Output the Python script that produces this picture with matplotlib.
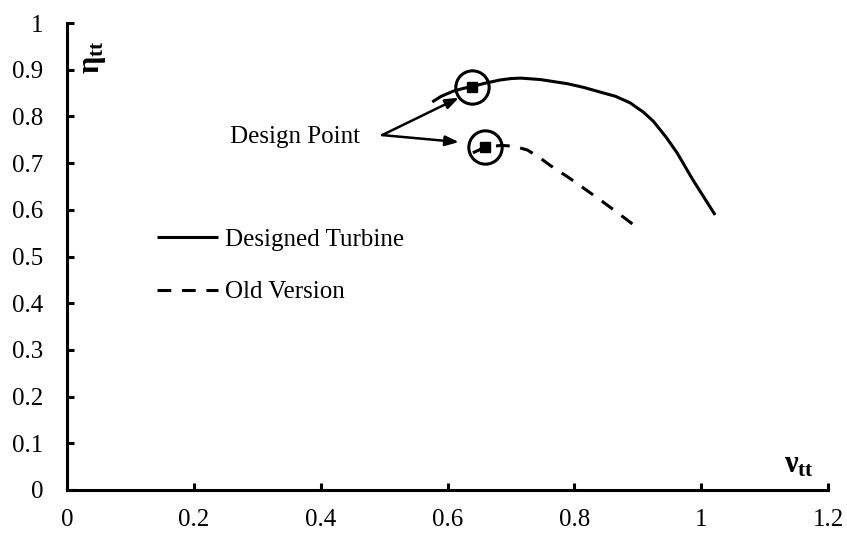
import matplotlib
matplotlib.use("Agg")
import matplotlib.pyplot as plt

plt.rcParams["font.family"] = ["Liberation Serif", "DejaVu Serif"]
plt.rcParams["mathtext.fontset"] = "custom"
plt.rcParams["mathtext.rm"] = "Liberation Serif"
plt.rcParams["mathtext.bf"] = "Liberation Serif:bold"
plt.rcParams["mathtext.it"] = "Liberation Serif:italic"

# Designed turbine characteristic
designed_v = [0.576, 0.590, 0.609, 0.625, 0.639, 0.659, 0.683, 0.700, 0.715,
              0.746, 0.789, 0.815, 0.841, 0.865, 0.888, 0.909, 0.925, 0.945,
              0.962, 0.987, 1.022]
designed_eta = [0.831, 0.843, 0.854, 0.860, 0.864, 0.871, 0.878, 0.881, 0.882,
                0.879, 0.870, 0.862, 0.852, 0.843, 0.829, 0.809, 0.789, 0.755,
                0.722, 0.664, 0.589]

# Old version characteristic
old_v = [0.640, 0.659, 0.685, 0.705, 0.726, 0.745, 0.762, 0.790, 0.814, 0.840,
         0.867, 0.900]
old_eta = [0.722, 0.734, 0.738, 0.736, 0.728, 0.712, 0.695, 0.670, 0.647, 0.622,
           0.595, 0.561]

# Design points
design_v = [0.639, 0.659]
design_eta = [0.864, 0.734]

x_ticks = [0, 0.2, 0.4, 0.6, 0.8, 1, 1.2]
x_ticklabels = ["0", "0.2", "0.4", "0.6", "0.8", "1", "1.2"]
y_ticks = [0, 0.1, 0.2, 0.3, 0.4, 0.5, 0.6, 0.7, 0.8, 0.9, 1]
y_ticklabels = ["0", "0.1", "0.2", "0.3", "0.4", "0.5", "0.6", "0.7", "0.8", "0.9", "1"]

W, H = 847, 534
fig = plt.figure(figsize=(W / 100, H / 100), dpi=100)
ax = fig.add_axes([67 / W, (H - 490) / H, (828 - 67) / W, (490 - 23) / H])

ax.plot(designed_v, designed_eta, color="black", lw=2.2, solid_capstyle="butt",
        solid_joinstyle="round", label="Designed Turbine")
ax.plot(old_v, old_eta, color="black", lw=2.2, linestyle=(0, (4.5, 3.5)),
        label="Old Version")

ax.plot(design_v, design_eta, linestyle="none", marker="s", markersize=7.5,
        color="black")
ax.plot(design_v, design_eta, linestyle="none", marker="o", markersize=24,
        markerfacecolor="none", markeredgecolor="black", markeredgewidth=2.2)

ax.set_xlim(0, 1.2)
ax.set_ylim(0, 1)
ax.set_xticks(x_ticks)
ax.set_xticklabels(x_ticklabels)
ax.set_yticks(y_ticks)
ax.set_yticklabels(y_ticklabels)

for side in ("top", "right"):
    ax.spines[side].set_visible(False)
for side in ("left", "bottom"):
    ax.spines[side].set_linewidth(2.2)
    ax.spines[side].set_capstyle("projecting")

ax.tick_params(axis="both", direction="in", length=5, width=2.2,
               labelsize=18, colors="black")
ax.tick_params(axis="x", pad=14)
ax.tick_params(axis="y", pad=17)

# Axis titles
fig.text(93 / W, 1 - 57 / H, r"$\mathbf{\eta_{tt}}$", rotation=90,
         ha="center", va="center", fontsize=22)
fig.text(799 / W, 1 - 465 / H, r"$\mathbf{\nu_{tt}}$",
         ha="center", va="center", fontsize=22)

# Design point annotation
arrow_style = dict(arrowstyle="-|>,head_length=0.8,head_width=0.3",
                   color="black", lw=1.8, shrinkA=0, shrinkB=0)
ax.annotate("", xy=(0.618, 0.840), xytext=(0.497, 0.760), arrowprops=arrow_style)
ax.annotate("", xy=(0.618, 0.745), xytext=(0.497, 0.760), arrowprops=arrow_style)
ax.text(0.360, 0.755, "Design Point", ha="center", va="center", fontsize=18)

leg = ax.legend(loc="center left", bbox_to_anchor=(157 / W, 1 - 266 / H),
                bbox_transform=fig.transFigure, frameon=False, fontsize=18,
                handlelength=2.44, handletextpad=0.28, labelspacing=1.19,
                borderpad=0, borderaxespad=0)

fig.savefig("out.png", dpi=100)
